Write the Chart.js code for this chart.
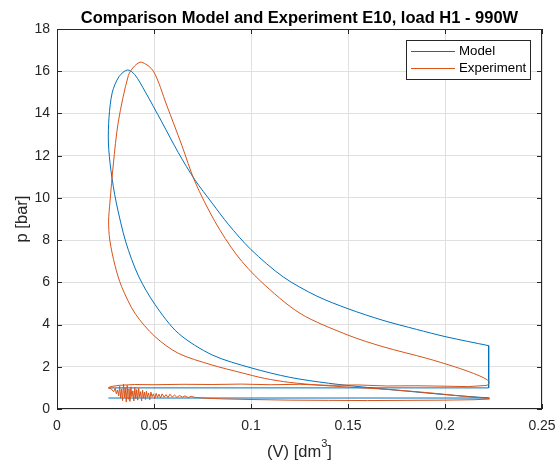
<!DOCTYPE html>
<html>
<head>
<meta charset="utf-8">
<script src="https://cdn.jsdelivr.net/npm/chart.js@4.4.0/dist/chart.umd.min.js"></script>
<style>
  html, body { margin: 0; padding: 0; background: #fff; }
  #wrap { width: 555px; height: 463px; }
</style>
</head>
<body>
<div id="wrap"><canvas id="pvChart" width="555" height="463"></canvas></div>
<script>
// Ejes
const xTicks = [0, 0.05, 0.1, 0.15, 0.2, 0.25];
const xTickLabels = ['0', '0.05', '0.1', '0.15', '0.2', '0.25'];
const yTicks = [0, 2, 4, 6, 8, 10, 12, 14, 16, 18];

// Modelo: compresion + expansion (curva continua)
const modelCurveV = [0.223, 0.200, 0.180, 0.160, 0.140, 0.120, 0.100, 0.0800, 0.0625, 0.0505, 0.0420, 0.0355, 0.0305, 0.0278, 0.0265, 0.0268, 0.0285, 0.0320, 0.0363,
                     0.0400, 0.0454, 0.0540, 0.0625, 0.0711, 0.0800, 0.0883, 0.1000, 0.1167, 0.1339, 0.1500, 0.1680, 0.1854, 0.2005, 0.2225];
const modelCurveP = [0.52, 0.68, 0.85, 1.02, 1.22, 1.50, 1.95, 2.56, 3.59, 4.95, 6.30, 7.90, 9.80, 11.30, 12.60, 13.80, 15.00, 15.75, 16.06,
                     15.85, 15.04, 13.60, 12.15, 10.85, 9.75, 8.75, 7.55, 6.25, 5.35, 4.75, 4.20, 3.77, 3.42, 3.00];
// Modelo: tramos rectos
const modelEdgeV = [0.2225, 0.2225, 0.0265];
const modelEdgeP = [3.00, 1.00, 1.00];
const modelLowV = [0.0265, 0.2225];
const modelLowP = [0.52, 0.52];

// Experimento: compresion + expansion
const expCurveV = [0.223, 0.210, 0.195, 0.180, 0.165, 0.150, 0.135, 0.120, 0.107, 0.0950, 0.0797, 0.0625, 0.0505, 0.0402, 0.0333, 0.0299, 0.0272, 0.0266, 0.0273, 0.0290, 0.0316, 0.0368, 0.0400, 0.0436,
                   0.0497, 0.0565, 0.0643, 0.0711, 0.0814, 0.0926, 0.1050, 0.1253, 0.1500, 0.1680, 0.1906, 0.2050, 0.2146, 0.2205, 0.2228, 0.2218];
const expCurveP = [0.50, 0.60, 0.74, 0.86, 0.96, 1.04, 1.13, 1.26, 1.45, 1.72, 2.09, 2.64, 3.43, 4.53, 5.80, 6.80, 8.00, 8.90, 9.80, 11.56, 13.60, 15.80, 16.25, 16.43,
                   16.00, 14.40, 12.50, 10.77, 8.88, 7.30, 6.05, 4.53, 3.50, 2.95, 2.40, 2.00, 1.69, 1.45, 1.28, 1.12];
// Experimento: escape (linea superior de la banda)
const expExhaustV = [0.2218, 0.212, 0.200, 0.185, 0.170, 0.155, 0.140, 0.125, 0.110, 0.095, 0.080, 0.065, 0.050, 0.040, 0.032, 0.0275, 0.0265];
const expExhaustP = [1.12, 1.06, 1.08, 1.10, 1.09, 1.14, 1.12, 1.17, 1.15, 1.18, 1.16, 1.17, 1.15, 1.16, 1.12, 1.06, 1.00];
// Experimento: admision (linea inferior, con ruido)
const expIntakeV = [0.0265, 0.0280, 0.0292, 0.0300, 0.0306, 0.0312, 0.0318, 0.0323, 0.0328, 0.0333, 0.0338, 0.0343, 0.0348, 0.0352, 0.0357, 0.0362,
                    0.0366, 0.0371, 0.0376, 0.0381, 0.0386, 0.0391, 0.0396, 0.0401, 0.0406, 0.0411, 0.0416, 0.0421, 0.0426, 0.0431, 0.0436, 0.0441,
                    0.0446, 0.0451, 0.0456, 0.0461, 0.0466, 0.0472, 0.0478, 0.0484, 0.0490, 0.0497, 0.0504, 0.0511, 0.0518, 0.0526, 0.0534, 0.0542,
                    0.0552, 0.0562, 0.0572, 0.0582, 0.0594, 0.0606, 0.0618, 0.0632, 0.0646, 0.0660, 0.0676, 0.0692, 0.0710, 0.0750, 0.0850, 0.100,
                    0.120, 0.140, 0.160, 0.180, 0.200, 0.215, 0.223];
const expIntakeP = [1.00, 0.95, 0.82, 0.98, 0.72, 0.90, 0.62, 1.08, 0.52, 0.95, 0.40, 1.18, 0.55, 1.00, 0.33, 1.12,
                    0.48, 0.95, 0.36, 1.05, 0.58, 0.86, 0.38, 1.02, 0.50, 0.92, 0.42, 0.98, 0.56, 0.82, 0.38, 0.90,
                    0.52, 0.80, 0.45, 0.85, 0.55, 0.76, 0.44, 0.80, 0.58, 0.72, 0.50, 0.74, 0.55, 0.70, 0.52, 0.72,
                    0.56, 0.68, 0.54, 0.70, 0.57, 0.66, 0.55, 0.64, 0.56, 0.62, 0.54, 0.60, 0.55, 0.52, 0.48, 0.45,
                    0.42, 0.41, 0.40, 0.41, 0.42, 0.44, 0.47];

const modelColor = '#0072BD';
const expColor = '#D95319';
const axisColor = '#262626';
const gridColor = '#e0e0e0';
const fontFamily = '"Liberation Sans", Arial, Helvetica, sans-serif';

const pts = (v, p) => v.map((x, i) => ({ x: x, y: p[i] }));

function lineSet(label, v, p, color, tension, order) {
    return {
        label: label,
        data: pts(v, p),
        showLine: true,
        borderColor: color,
        backgroundColor: color,
        borderWidth: 1,
        pointRadius: 0,
        tension: tension,
        fill: false,
        order: order
    };
}

// Caja, marcas, textos y leyenda al estilo MATLAB
const decorPlugin = {
    id: 'decor',
    beforeDraw(chart) {
        const ctx = chart.ctx;
        ctx.save();
        ctx.fillStyle = '#fff';
        ctx.fillRect(0, 0, chart.width, chart.height);
        ctx.restore();
    },
    afterDraw(chart) {
        const ctx = chart.ctx;
        const a = chart.chartArea;
        const xs = chart.scales.x, ys = chart.scales.y;
        ctx.save();

        // caja
        ctx.strokeStyle = axisColor;
        ctx.lineWidth = 1;
        ctx.strokeRect(Math.round(a.left) + 0.5, Math.round(a.top) + 0.5,
                       Math.round(a.right - a.left) - 1, Math.round(a.bottom - a.top) - 1);

        // marcas hacia dentro
        const tl = 5;
        ctx.beginPath();
        xTicks.forEach(t => {
            const px = Math.round(xs.getPixelForValue(t)) + 0.5;
            ctx.moveTo(px, a.bottom); ctx.lineTo(px, a.bottom - tl);
            ctx.moveTo(px, a.top); ctx.lineTo(px, a.top + tl);
        });
        yTicks.forEach(t => {
            const py = Math.round(ys.getPixelForValue(t)) + 0.5;
            ctx.moveTo(a.left, py); ctx.lineTo(a.left + tl, py);
            ctx.moveTo(a.right, py); ctx.lineTo(a.right - tl, py);
        });
        ctx.stroke();

        // titulo
        const cx = (a.left + a.right) / 2;
        ctx.fillStyle = '#000';
        ctx.textAlign = 'center';
        ctx.textBaseline = 'middle';
        ctx.font = 'bold 16.5px ' + fontFamily;
        ctx.fillText('Comparison Model and Experiment E10, load H1 - 990W', cx, 18);

        // etiqueta x con superindice
        ctx.fillStyle = axisColor;
        const lblFont = '16.5px ' + fontFamily;
        const supFont = '11px ' + fontFamily;
        const base = '(V) [dm', sup = '3', end = ']';
        ctx.font = lblFont;
        const wBase = ctx.measureText(base).width;
        const wEnd = ctx.measureText(end).width;
        ctx.font = supFont;
        const wSup = ctx.measureText(sup).width;
        const x0 = cx - (wBase + wSup + wEnd) / 2;
        ctx.textAlign = 'left';
        ctx.font = lblFont;
        ctx.fillText(base, x0, 452);
        ctx.font = supFont;
        ctx.fillText(sup, x0 + wBase, 444);
        ctx.font = lblFont;
        ctx.fillText(end, x0 + wBase + wSup, 452);

        // etiqueta y
        ctx.save();
        ctx.translate(22, (a.top + a.bottom) / 2);
        ctx.rotate(-Math.PI / 2);
        ctx.textAlign = 'center';
        ctx.fillText('p [bar]', 0, 0);
        ctx.restore();

        // leyenda
        const lx = 406.5, ly = 40.5, lw = 124, lh = 39;
        ctx.fillStyle = '#fff';
        ctx.fillRect(lx, ly, lw, lh);
        ctx.strokeStyle = axisColor;
        ctx.strokeRect(lx, ly, lw, lh);
        const items = [['Model', modelColor, 51.5], ['Experiment', expColor, 68.5]];
        items.forEach(([txt, col, y]) => {
            ctx.strokeStyle = col;
            ctx.beginPath();
            ctx.moveTo(411, y); ctx.lineTo(455, y);
            ctx.stroke();
            ctx.fillStyle = '#000';
            ctx.font = '13.3px ' + fontFamily;
            ctx.textAlign = 'left';
            ctx.fillText(txt, 459, y);
        });
        ctx.restore();
    }
};

const ctx = document.getElementById('pvChart').getContext('2d');
const pvChart = new Chart(ctx, {
    type: 'scatter',
    data: {
        datasets: [
            lineSet('Model', modelCurveV, modelCurveP, modelColor, 0.3, 2),
            lineSet('Model', modelEdgeV, modelEdgeP, modelColor, 0, 2),
            lineSet('Model', modelLowV, modelLowP, modelColor, 0, 2),
            lineSet('Experiment', expCurveV, expCurveP, expColor, 0.3, 1),
            lineSet('Experiment', expExhaustV, expExhaustP, expColor, 0, 1),
            lineSet('Experiment', expIntakeV, expIntakeP, expColor, 0, 1)
        ]
    },
    options: {
        responsive: false,
        animation: false,
        layout: { padding: { top: 29, right: 0, left: 0, bottom: 0 } },
        scales: {
            x: {
                type: 'linear',
                min: 0,
                max: 0.25,
                afterFit: s => { s.height = 54; s.paddingRight = 13; },
                afterBuildTicks: s => { s.ticks = xTicks.map(v => ({ value: v })); },
                grid: { color: gridColor, drawTicks: false },
                border: { display: false },
                ticks: {
                    padding: 9,
                    color: axisColor,
                    font: { family: fontFamily, size: 14 },
                    maxRotation: 0,
                    callback: (value) => xTickLabels[xTicks.indexOf(value)]
                }
            },
            y: {
                type: 'linear',
                min: 0,
                max: 18,
                afterFit: s => { s.width = 57; },
                afterBuildTicks: s => { s.ticks = yTicks.map(v => ({ value: v })); },
                grid: { color: gridColor, drawTicks: false },
                border: { display: false },
                ticks: {
                    padding: 7,
                    color: axisColor,
                    font: { family: fontFamily, size: 14 },
                    callback: (value) => String(value)
                }
            }
        },
        plugins: {
            legend: { display: false },
            title: { display: false },
            tooltip: { enabled: false }
        }
    },
    plugins: [decorPlugin]
});
</script>
</body>
</html>
